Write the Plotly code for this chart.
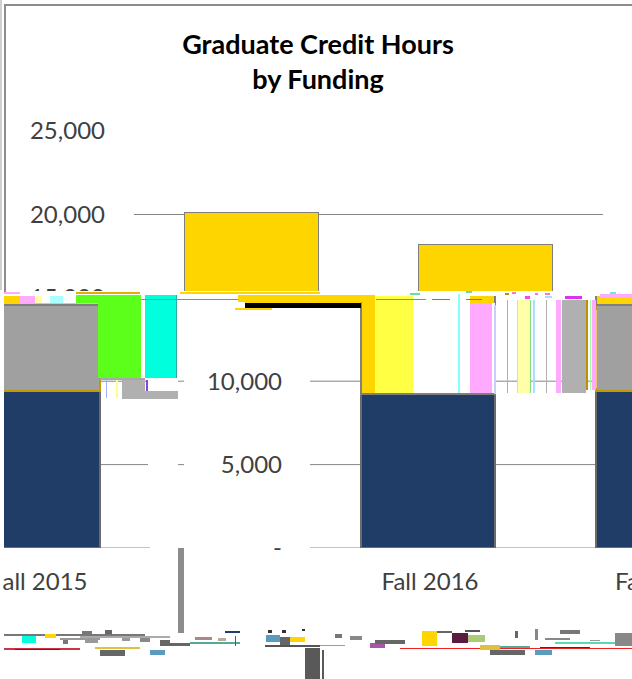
import plotly.graph_objects as go

W, H = 632, 679

# ---- chart data ----
categories = ["Fall 2015", "Fall 2016"]
navy_values = [9410, 9230]
grey_values = [5170, 0]
gold_values = [5560, 8995]
y_ticks = [0, 5000, 10000, 15000, 20000, 25000]
y_tick_text = ["-", "5,000", "10,000", "15,000", "20,000", "25,000"]
title_text = "Graduate Credit Hours<br>by Funding"
lower_labels = ["all 2015", "Fall 2016", "Fa"]

# ---- layout helpers (pixel geometry of the picture) ----
PLOT_TOP, PLOT_ZERO = 131, 548
PX_PER_UNIT = (PLOT_ZERO - PLOT_TOP) / 25000
SPLIT = 291
TEXT = "#404040"
GRID = "#868686"
NAVY, GREY, GOLD = "#1F3D66", "#A0A0A0", "#FFD500"


def fx(px):
    return px / W


def fy(px):
    return 1 - px / H


def val(py):
    return (PLOT_ZERO - py) / PX_PER_UNIT


UNIT = 234.5


def pos(px):
    return 1 + (px - 428) / UNIT


BAR_W = 134 / UNIT
FONT = "Lato, Carlito, 'Open Sans', sans-serif"

fig = go.Figure()
series = [("Navy", navy_values, NAVY, "#6B6B6B"), ("Grey", grey_values, GREY, "#C49A00"),
          ("Gold", gold_values, GOLD, "#7F7F7F")]

for name, values, color, line in series:
    fig.add_bar(name=name, x=categories, y=values, marker=dict(color=color, line=dict(color="#7F7F7F", width=1)),
                width=BAR_W, xaxis="x", yaxis="y", showlegend=False)

low_x = [pos(33), pos(428), pos(663)]
low_idx = [0, 1, 0]
for name, values, color, line in series:
    fig.add_bar(name=name, x=low_x, y=[values[i] for i in low_idx],
                marker=dict(color=color, line=dict(color=line, width=1.5)),
                width=BAR_W, xaxis="x2", yaxis="y2", showlegend=False)

# carrier for the half-hidden 15,000 label
fig.add_scatter(x=[categories[0]], y=[None], xaxis="x", yaxis="y3", showlegend=False, mode="markers")

shapes = []


def rect(x0, y0, x1, y1, color, layer="above"):
    shapes.append(dict(type="rect", xref="paper", yref="paper", x0=fx(x0), x1=fx(x1), y0=fy(y0), y1=fy(y1),
                       fillcolor=color, line=dict(width=0), layer=layer))


def grid(x0, x1, value):
    shapes.append(dict(type="line", xref="paper", yref="y2", x0=fx(x0), x1=fx(x1), y0=value, y1=value,
                       line=dict(color=GRID, width=1), layer="below"))


for v in (5000, 10000):
    for a, b in ((100, 148), (178, 184), (310, 361), (495, 596)):
        grid(a, b, v)
for a, b in ((4, 150), (310, 632)):
    grid(a, b, 0)

# frame of the original picture
rect(4, 4, 632, 6, "#8C8C8C")
rect(4, 4, 6, 292, "#8C8C8C")
rect(0, 0, 2, 290, "#D0D0D0")

# scrambled strips across the middle
strips = [
    (28, 291, 110, 303, "#FFFFFF"),
    (4, 292, 632, 296, "#FFFFFF"),
    (20, 296, 35, 303, "#FFAAFF"), (35, 296, 42, 303, "#FFFFAA"), (50, 296, 63, 303, "#AAFFFF"),
    (4, 292, 20, 294, "#FFAAFF"), (76, 292, 140, 294, "#E0B000"), (180, 292, 320, 294, "#FFD500"),
    (98, 295, 141, 378, "#5CFF1A"), (76, 295, 98, 303, "#5CFF1A"),
    (145, 295, 176, 378, "#00FFDD"), (176, 295, 177, 378, "#2FA8A0"),
    (100, 378, 145, 380, "#A8A8A8"), (122, 380, 145, 391, "#B0B0B0"), (122, 391, 178, 399, "#B0B0B0"),
    (146, 380, 148, 391, "#8844DD"), (106, 380, 107, 398, "#AAAAFF"), (116, 380, 118, 398, "#FFFF88"),
    (141, 299, 245, 300, "#8C8C8C"),
    (238, 295, 375, 302, "#FFD500"), (245, 302, 361, 303, "#FFD500"), (245, 303, 361, 308, "#000000"),
    (235, 308, 272, 310, "#FFD500"),
    (375, 296, 413, 393, "#FFFF44"), (413, 296, 470, 393, "#FFFFFF"), (470, 303, 492, 393, "#FFAAFF"),
    (492, 303, 495, 393, "#FFFFFF"), (458, 294, 460, 393, "#88FFFF"),
    (376, 299, 426, 300, "#8C8C8C"), (432, 299, 450, 300, "#FF22DD"), (466, 299, 482, 300, "#FF22DD"),
    (494, 305, 496, 394, "#CCCCFF"),
    (507, 300, 508, 393, "#B0B0B0"), (517, 300, 518, 393, "#A0FFA0"), (518, 300, 530, 393, "#FFFFAA"),
    (530, 300, 531, 393, "#80E080"), (533, 300, 535, 393, "#AADDFF"), (546, 300, 547, 393, "#B0B0B0"),
    (556, 300, 561, 393, "#FFAAFF"), (562, 300, 586, 393, "#B0B0B0"), (586, 300, 588, 390, "#BF9000"),
    (590, 300, 591, 390, "#A0FFA0"), (592, 300, 596, 390, "#FFAAFF"), (596, 310, 597, 388, "#F0C080"),
    (525, 296, 530, 299, "#FF44EE"), (565, 296, 582, 299, "#DD33EE"), (600, 294, 632, 298, "#FFAAFF"),
    (505, 293, 509, 295, "#BF9000"), (512, 292, 516, 294, "#FF77CC"), (535, 293, 538, 295, "#FF77CC"),
    (545, 293, 550, 295, "#FF77CC"), (610, 292, 616, 294, "#66EEDD"), (410, 293, 420, 295, "#66DDAA"),
    (466, 291, 472, 293, "#66DDAA"), (545, 296, 552, 298, "#AADDFF"),
    # vertical bar and the scrambled band at the bottom
    (178, 548, 184, 633, "#8C8C8C"),
    (4, 634, 145, 636, "#777777"), (22, 636, 36, 643, "#00FFDD"), (45, 634, 56, 638, "#FFD500"),
    (60, 638, 100, 640, "#999999"), (80, 636, 170, 638, "#AAAAAA"), (160, 640, 170, 645, "#666666"),
    (82, 631, 92, 634, "#777777"), (105, 630, 112, 634, "#666666"), (63, 640, 68, 644, "#777777"),
    (85, 639, 98, 643, "#999999"), (122, 638, 130, 641, "#999999"), (140, 638, 150, 642, "#888888"),
    (195, 637, 212, 640, "#AA8888"), (218, 638, 226, 641, "#BBAA99"),
    (4, 648, 80, 650, "#CC3344"), (15, 649, 60, 650, "#2222CC"), (95, 647, 140, 649, "#E0C040"),
    (100, 650, 125, 656, "#666666"), (150, 650, 165, 655, "#5B9BBF"), (160, 643, 190, 646, "#666666"),
    (190, 642, 240, 644, "#55AA99"), (225, 631, 240, 633, "#1F3D66"), (235, 636, 236, 646, "#AA3344"),
    (266, 635, 280, 642, "#5B9BBF"), (280, 637, 290, 645, "#666666"), (290, 637, 305, 642, "#FFD500"),
    (268, 630, 272, 633, "#333333"), (282, 630, 286, 633, "#333333"), (302, 629, 305, 631, "#333333"),
    (265, 645, 320, 647, "#555555"), (305, 648, 320, 679, "#595959"), (322, 650, 324, 679, "#595959"),
    (335, 634, 342, 638, "#777777"), (350, 636, 362, 640, "#888888"), (320, 645, 345, 646, "#CC8888"),
    (370, 643, 385, 648, "#AA55AA"), (375, 640, 405, 644, "#666666"), (400, 648, 632, 649, "#EE2222"),
    (422, 631, 437, 646, "#FFD500"), (437, 631, 452, 633, "#666666"), (452, 633, 468, 643, "#5C1A40"),
    (468, 635, 485, 642, "#AACC77"), (480, 645, 500, 650, "#E0C040"), (500, 646, 530, 648, "#55AA99"),
    (465, 630, 480, 632, "#555555"), (515, 631, 518, 638, "#666666"), (535, 629, 538, 640, "#888888"),
    (560, 630, 580, 634, "#777777"), (590, 640, 600, 641, "#999999"), (545, 638, 570, 640, "#888888"),
    (535, 650, 552, 655, "#5B9BBF"), (490, 650, 525, 655, "#666666"), (555, 642, 632, 644, "#55DDAA"),
    (540, 647, 590, 648, "#2222CC"), (615, 633, 632, 646, "#888888"),
]
for s in strips:
    rect(*s)

axis_font = dict(family=FONT, size=24, color=TEXT)
fig.update_layout(
    width=W, height=H, autosize=False, margin=dict(l=0, r=0, t=0, b=0, pad=0, autoexpand=False),
    paper_bgcolor="white", plot_bgcolor="rgba(0,0,0,0)",
    barmode="stack", hovermode=False, showlegend=False, shapes=shapes,
    title=dict(text="<b>" + title_text + "</b>", x=318 / W, xanchor="center", yref="container", y=1 - 30 / H, yanchor="top",
               pad=dict(t=24), font=dict(family=FONT, size=27, color="#000000"), automargin=False),
    xaxis=dict(domain=[fx(134), fx(603)], type="category", categoryorder="array", categoryarray=categories,
               range=[-0.5, 1.5], showticklabels=False, ticks="", showline=False, showgrid=False, anchor="y"),
    yaxis=dict(domain=[fy(SPLIT), fy(PLOT_TOP)], range=[val(SPLIT), 25000], tickvals=y_ticks[4:], ticktext=y_tick_text[4:],
               showgrid=True, gridcolor=GRID, gridwidth=1, zeroline=False, showline=False, ticks="", ticklabelstandoff=28,
               tickfont=axis_font, anchor="x"),
    yaxis3=dict(domain=[fy(PLOT_ZERO), fy(PLOT_TOP)], range=[0, 25000], tickvals=[y_ticks[3]], ticktext=[y_tick_text[3]],
                showgrid=False, zeroline=False, showline=False, ticks="", ticklabelstandoff=28, tickfont=axis_font, anchor="x"),
    xaxis2=dict(domain=[fx(4), 1], range=[pos(4), pos(632)], tickvals=[pos(45), pos(430), pos(627)], ticktext=lower_labels,
                showgrid=False, zeroline=False, showline=False, ticks="", ticklabelstandoff=17, ticklabeloverflow="allow",
                tickfont=dict(family=FONT, size=24, color=TEXT), anchor="y2"),
    yaxis2=dict(domain=[fy(PLOT_ZERO), fy(294)], range=[0, val(294)], tickvals=y_ticks[:3], ticktext=y_tick_text[:3],
                showgrid=False, zeroline=False, showline=False, ticks="", ticklabelstandoff=28,
                tickfont=axis_font, anchor="free", position=fx(310)),
)

fig.write_html("out.html", config={"displayModeBar": False}, post_script="document.body.style.margin='0';")
